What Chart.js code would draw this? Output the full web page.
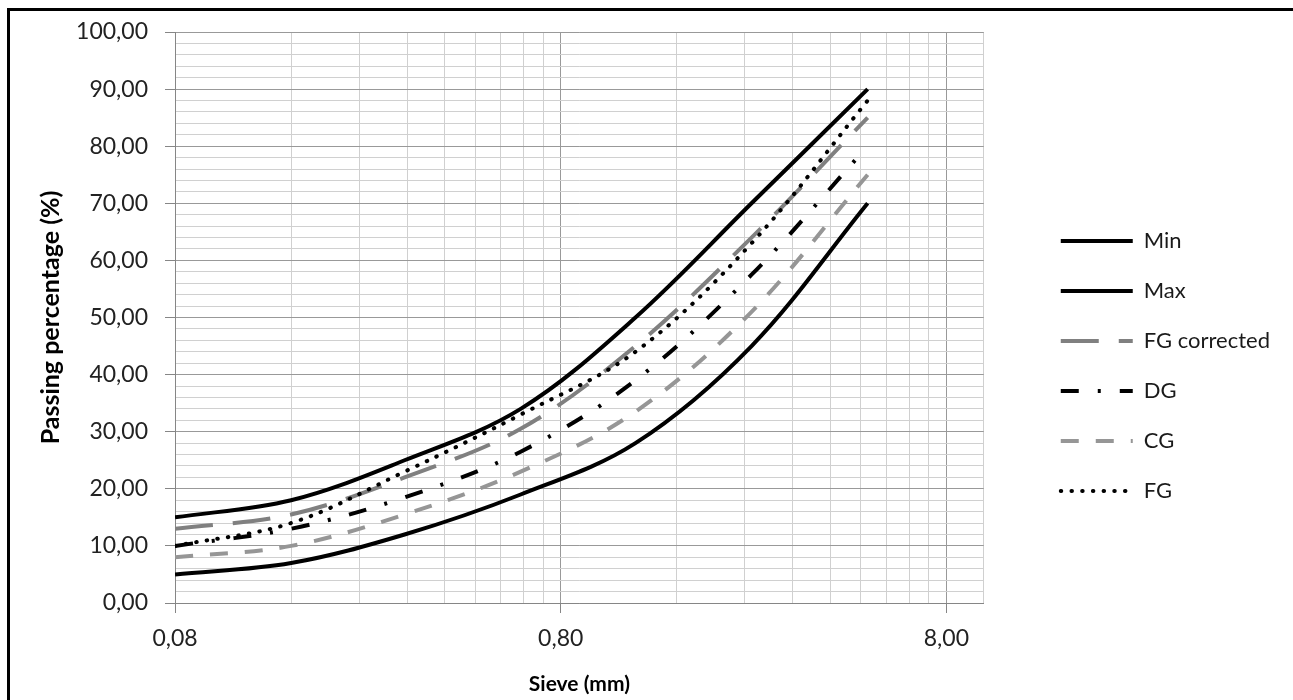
<!DOCTYPE html>
<html>
<head>
<meta charset="utf-8">
<title>Grading curves</title>
<script src="https://cdn.jsdelivr.net/npm/chart.js@4.4.1/dist/chart.umd.min.js"></script>
<style>
  html, body { margin: 0; padding: 0; background: #fff; overflow: hidden; }
  #frame { position: absolute; left: 7px; top: 8px; width: 1400px; height: 800px; border: 3px solid #000; }
  #wrap { position: absolute; left: 0; top: 0; width: 1293px; height: 700px; }
</style>
</head>
<body>
<div id="frame"></div>
<div id="wrap"><canvas id="grading"></canvas></div>
<script>
// sieve sizes (mm) and passing percentages
const sieves = [0.08, 0.16, 0.315, 0.63, 1.25, 2.5, 5];
const minLimit = [5, 7, 12, 19, 28, 45, 70];
const maxLimit = [15, 18, 25, 34, 50, 70, 90];
const fgCorrected = [13, 15.5, 22, 30.5, 45, 64, 85];
const dg = [10, 13, 18.5, 26.5, 39, 57.5, 80];
const cg = [8, 10, 15.5, 23, 33.5, 51, 75];
const fg = [10, 14, 23, 33, 44, 63, 88];

// grid lines on the log axis, and which of them carry a label
const xGrid = [0.08, 0.16, 0.24, 0.32, 0.4, 0.48, 0.56, 0.64, 0.72,
               0.8, 1.6, 2.4, 3.2, 4, 4.8, 5.6, 6.4, 7.2, 8, 10];
const xLabelled = [0.08, 0.8, 8];

const comma = v => Number(v).toFixed(2).replace('.', ',');
const pts = arr => sieves.map((s, i) => ({ x: s, y: arr[i] }));

Chart.defaults.font.family = "Lato, 'Open Sans', sans-serif";
Chart.defaults.color = '#222222';

function serie(label, data, color, dash, cap, order) {
  return {
    label: label,
    data: pts(data),
    borderColor: color,
    backgroundColor: color,
    borderWidth: 4,
    borderDash: dash,
    borderCapStyle: cap,
    pointRadius: 0,
    tension: 0.35,
    fill: false,
    order: order
  };
}

const ctx = document.getElementById('grading').getContext('2d');

new Chart(ctx, {
  type: 'line',
  data: {
    datasets: [
      serie('Min', minLimit, '#000000', [], 'butt', 6),
      serie('Max', maxLimit, '#000000', [], 'butt', 5),
      serie('FG corrected', fgCorrected, '#808080', [38, 20], 'butt', 4),
      serie('DG', dg, '#000000', [18, 19, 3, 19], 'butt', 3),
      serie('CG', cg, '#969696', [18, 17], 'butt', 2),
      serie('FG', fg, '#000000', [0.5, 10.2], 'round', 1)
    ]
  },
  options: {
    responsive: true,
    maintainAspectRatio: false,
    animation: false,
    layout: { padding: { left: 29, top: 32, right: 13, bottom: 0 } },
    plugins: {
      tooltip: { enabled: false },
      legend: {
        position: 'right',
        align: 'center',
        maxWidth: 320,
        labels: {
          usePointStyle: true,
          pointStyleWidth: 72,
          padding: 28,
          color: '#1a1a1a',
          font: { size: 22 },
          generateLabels: chart => chart.data.datasets.map((ds, i) => ({
            text: ds.label,
            strokeStyle: ds.borderColor,
            fillStyle: ds.borderColor,
            lineWidth: ds.borderWidth,
            lineDash: ds.borderDash,
            lineCap: ds.borderCapStyle,
            pointStyle: 'line',
            fontColor: '#1a1a1a',
            hidden: false,
            datasetIndex: i
          }))
        }
      }
    },
    scales: {
      x: {
        type: 'logarithmic',
        min: 0.08,
        max: 10,
        afterBuildTicks: scale => { scale.ticks = xGrid.map(v => ({ value: v })); },
        afterFit: scale => { scale.height = 97; },
        ticks: {
          autoSkip: false,
          maxRotation: 0,
          padding: 12,
          font: { size: 23 },
          callback: v => xLabelled.includes(v) ? comma(v) : ''
        },
        grid: {
          tickLength: 10,
          color: c => xLabelled.includes(c.tick.value) ? '#999999' : '#d0d0d0',
          tickColor: c => xLabelled.includes(c.tick.value) ? '#868686' : 'rgba(0,0,0,0)'
        },
        border: { color: '#868686' },
        title: {
          display: true,
          text: 'Sieve (mm)',
          color: '#000',
          font: { size: 21, weight: 'bold' },
          padding: { top: 0, bottom: 3 }
        }
      },
      y: {
        min: 0,
        max: 100,
        afterFit: scale => { scale.width = 146; },
        ticks: {
          stepSize: 2,
          autoSkip: false,
          padding: 17,
          font: { size: 23 },
          callback: v => v % 10 === 0 ? comma(v) : ''
        },
        grid: {
          tickLength: 10,
          color: c => c.tick.value % 10 === 0 ? '#999999' : '#d0d0d0',
          tickColor: c => c.tick.value % 10 === 0 ? '#868686' : 'rgba(0,0,0,0)'
        },
        border: { color: '#868686' },
        title: {
          display: true,
          text: 'Passing percentage (%)',
          color: '#000',
          font: { size: 25, weight: 'bold' },
          padding: { top: 7, bottom: 0 }
        }
      },
      // empty gap between the plot and the legend
      gap: {
        type: 'linear',
        position: 'right',
        display: true,
        grid: { display: false },
        ticks: { display: false },
        border: { display: false },
        afterFit: scale => { scale.width = 49; }
      }
    }
  }
});
</script>
</body>
</html>
